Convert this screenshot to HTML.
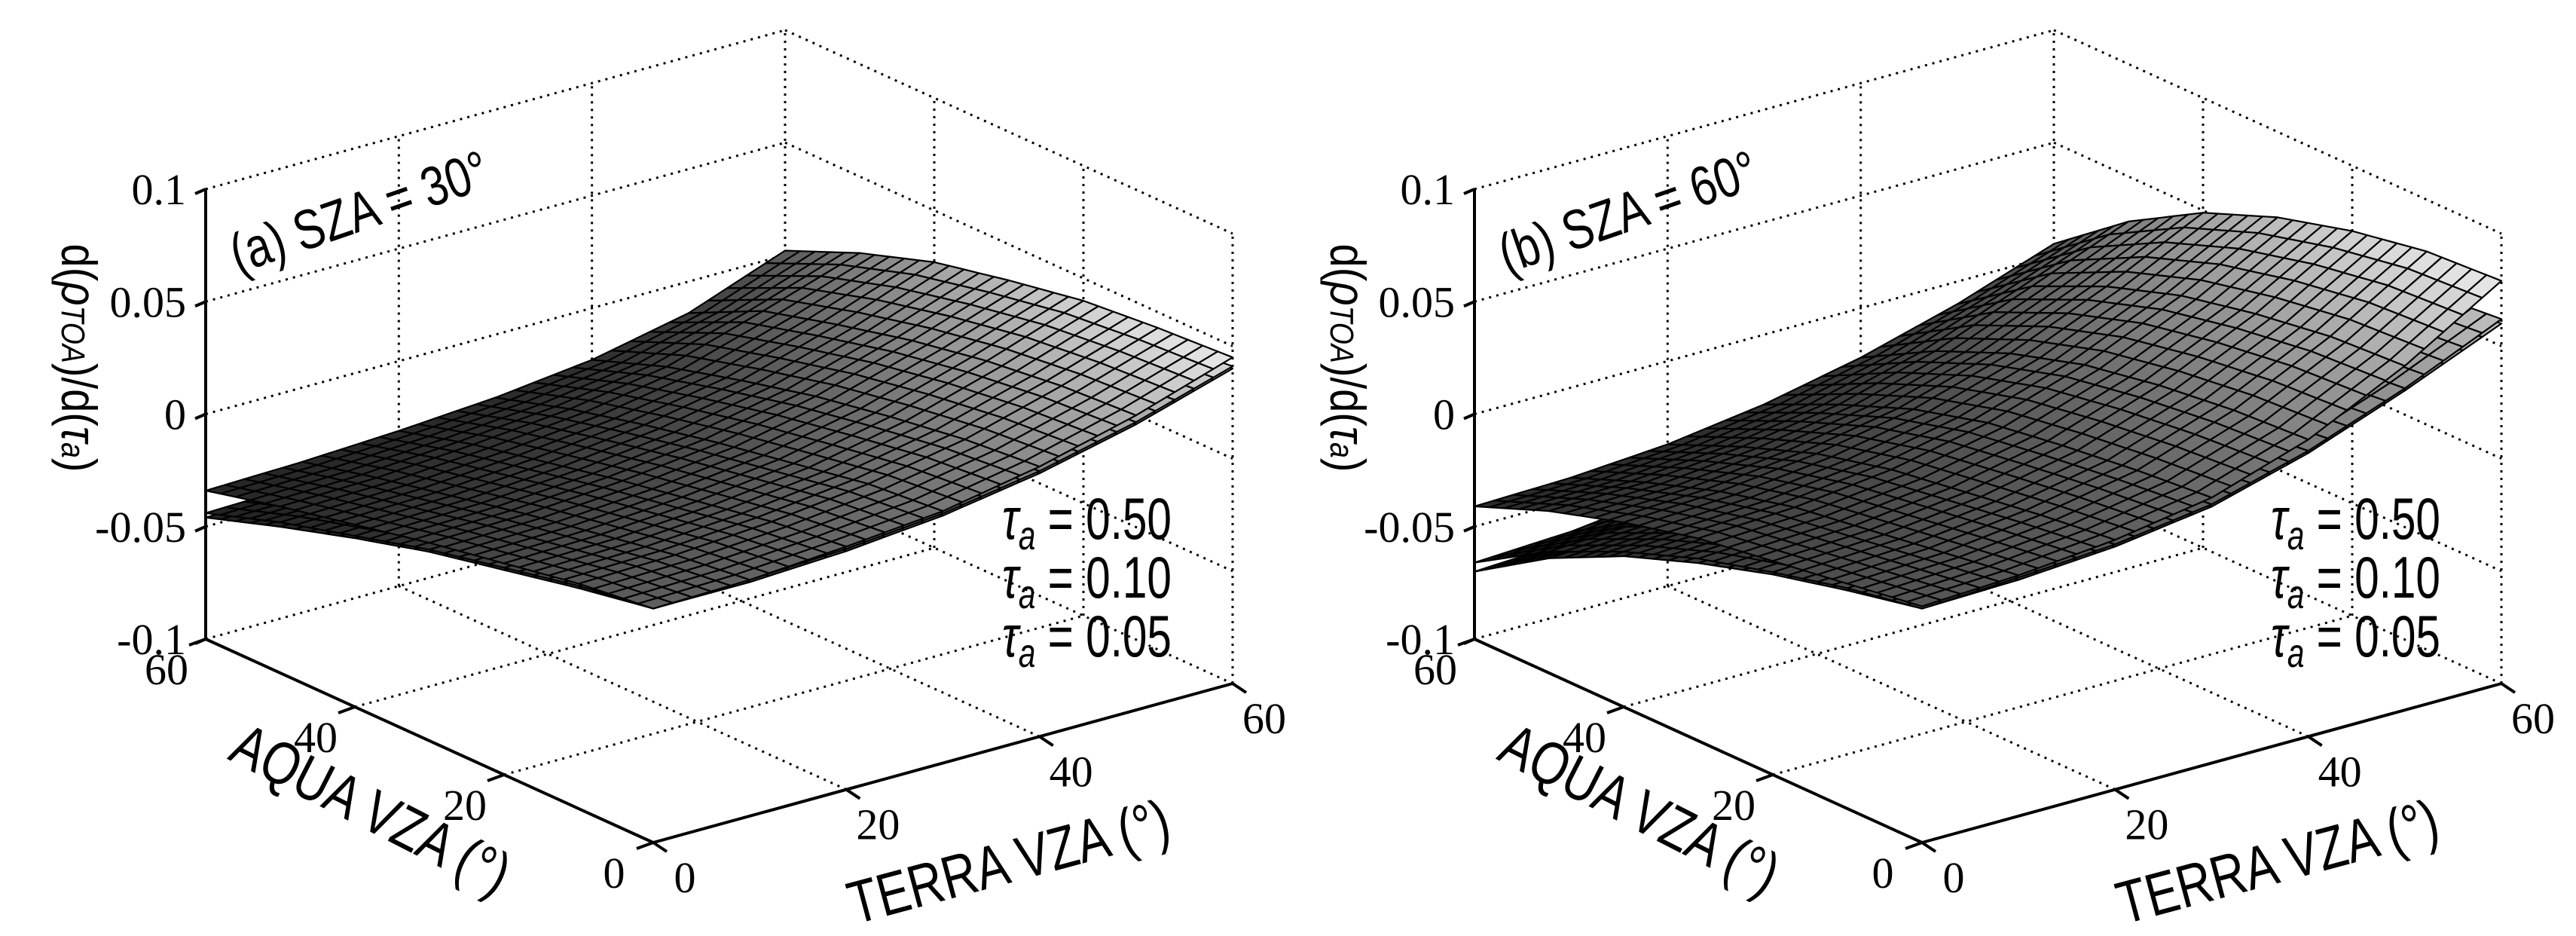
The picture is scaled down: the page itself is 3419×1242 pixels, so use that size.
<!DOCTYPE html>
<html><head><meta charset="utf-8"><style>
html,body{margin:0;padding:0;background:#fff;}
svg{display:block;}
text{fill:#000;}
.ser{font-family:"Liberation Serif",serif;}
.san{font-family:"Liberation Sans",sans-serif;}
</style></head><body>
<svg id="chart" width="3419" height="1242" viewBox="0 0 3419 1242" xmlns="http://www.w3.org/2000/svg"></svg>
<script>
// ---- data ----
const terraTicks = [0, 20, 40, 60];
const aquaTicks = [0, 20, 40, 60];
const zTicks = [-0.1, -0.05, 0, 0.05, 0.1];
const zTickLabels = ["-0.1", "-0.05", "0", "0.05", "0.1"];
const gridVZA = [0, 10, 20, 30, 40, 50, 60];
const legendLabels = ["0.50", "0.10", "0.05"];
const panelTitles = ["(a) SZA = 30°", "(b) SZA = 60°"];
// rows: aqua VZA 0..60, cols: terra VZA 0..60
const szaA_tau050 = [
 [0.004,0.005,0.008,0.012,0.020,0.031,0.045],
 [0.000,0.001,0.004,0.009,0.017,0.029,0.043],
 [-0.006,-0.005,-0.002,0.003,0.012,0.025,0.040],
 [-0.012,-0.011,-0.008,-0.003,0.006,0.019,0.034],
 [-0.019,-0.018,-0.015,-0.010,-0.002,0.011,0.027],
 [-0.026,-0.025,-0.022,-0.018,-0.011,0.002,0.016],
 [-0.034,-0.033,-0.031,-0.028,-0.023,-0.014,0.002]];
const szaA_tau010 = [
 [0.004,0.005,0.007,0.011,0.018,0.028,0.041],
 [-0.001,0.000,0.003,0.007,0.014,0.025,0.038],
 [-0.008,-0.007,-0.004,0.000,0.008,0.020,0.034],
 [-0.015,-0.014,-0.011,-0.007,0.001,0.013,0.027],
 [-0.024,-0.023,-0.020,-0.016,-0.008,0.004,0.019],
 [-0.033,-0.032,-0.029,-0.025,-0.019,-0.006,0.007],
 [-0.044,-0.043,-0.041,-0.038,-0.033,-0.024,-0.008]];
const szaA_tau005 = [
 [0.004,0.004,0.006,0.010,0.017,0.027,0.040],
 [-0.002,-0.001,0.002,0.006,0.013,0.024,0.036],
 [-0.009,-0.008,-0.005,-0.001,0.007,0.018,0.032],
 [-0.016,-0.015,-0.012,-0.008,0.000,0.011,0.025],
 [-0.025,-0.024,-0.021,-0.017,-0.010,0.002,0.017],
 [-0.035,-0.034,-0.031,-0.027,-0.021,-0.008,0.005],
 [-0.046,-0.045,-0.043,-0.040,-0.035,-0.026,-0.010]];
const szaB_tau050 = [
 [0.005,0.007,0.011,0.018,0.032,0.053,0.079],
 [0.000,0.002,0.007,0.015,0.030,0.051,0.077],
 [-0.005,-0.003,0.002,0.011,0.026,0.046,0.071],
 [-0.010,-0.008,-0.003,0.006,0.020,0.039,0.062],
 [-0.018,-0.016,-0.011,-0.003,0.010,0.028,0.049],
 [-0.028,-0.027,-0.023,-0.016,-0.004,0.013,0.030],
 [-0.041,-0.040,-0.037,-0.031,-0.022,-0.010,0.005]];
const szaB_tau010 = [
 [0.004,0.006,0.009,0.015,0.027,0.043,0.062],
 [-0.002,0.000,0.004,0.011,0.023,0.040,0.059],
 [-0.010,-0.008,-0.003,0.004,0.017,0.033,0.052],
 [-0.019,-0.017,-0.012,-0.004,0.008,0.024,0.042],
 [-0.031,-0.029,-0.024,-0.016,-0.004,0.011,0.028],
 [-0.046,-0.044,-0.040,-0.032,-0.020,-0.006,0.010],
 [-0.066,-0.064,-0.059,-0.051,-0.040,-0.026,-0.011]];
const szaB_tau005 = [
 [0.004,0.005,0.008,0.014,0.026,0.042,0.060],
 [-0.003,-0.001,0.003,0.010,0.022,0.038,0.057],
 [-0.011,-0.009,-0.004,0.003,0.015,0.031,0.050],
 [-0.021,-0.019,-0.014,-0.006,0.006,0.022,0.040],
 [-0.033,-0.031,-0.026,-0.018,-0.006,0.009,0.026],
 [-0.049,-0.047,-0.043,-0.035,-0.023,-0.008,0.008],
 [-0.070,-0.068,-0.063,-0.055,-0.044,-0.029,-0.013]];

const NS = "http://www.w3.org/2000/svg";
const svg = document.getElementById("chart");
function mk(tag, attrs, parent) {
  const e = document.createElementNS(NS, tag);
  for (const k in attrs) e.setAttribute(k, attrs[k]);
  (parent || svg).appendChild(e);
  return e;
}

function drawPanel(idx, ox, surfaces) {
  const g = mk("g", {});
  
  
  const oy = 1118;
  function P(t, a, z) {
    return [ox + t / 60 * 769 - a / 60 * 594, oy - t / 60 * 211 - a / 60 * 270 - (z + 0.1) / 0.2 * 597];
  }
  const dot = {stroke: "#000", "stroke-width": 3, "stroke-dasharray": "3 7", fill: "none"};
  function line(p, q, style, parent, name) {
    const l = mk("line", Object.assign({x1: p[0], y1: p[1], x2: q[0], y2: q[1]}, style), parent);
    
    
    return l;
  }
  const grid = mk("g", {}, g);
  
  
  zTicks.forEach(z => {
    line(P(0, 60, z), P(60, 60, z), dot, grid, 'grid-z-back');
    line(P(60, 60, z), P(60, 0, z), dot, grid, 'grid-z-right');
  });
  terraTicks.forEach(t => {
    if (t > 0) line(P(t, 60, -0.1), P(t, 60, 0.1), dot, grid, 'grid-terra-wall');
    if (t > 0 && t < 60) line(P(t, 0, -0.1), P(t, 60, -0.1), dot, grid, 'grid-terra-floor');
  });
  aquaTicks.forEach(a => {
    if (a < 60) line(P(60, a, -0.1), P(60, a, 0.1), dot, grid, 'grid-aqua-wall');
    if (a > 0 && a < 60) line(P(0, a, -0.1), P(60, a, -0.1), dot, grid, 'grid-aqua-floor');
  });
  let zmin = 1, zmax = -1;
  surfaces.forEach(s => s.forEach(r => r.forEach(v => { zmin = Math.min(zmin, v); zmax = Math.max(zmax, v); })));
  function interp(s, t, a) {
    const ft = t / 10, fa = a / 10;
    const i = Math.min(5, Math.floor(fa)), j = Math.min(5, Math.floor(ft));
    const u = ft - j, v = fa - i;
    return s[i][j] * (1 - u) * (1 - v) + s[i][j + 1] * u * (1 - v) + s[i + 1][j] * (1 - u) * v + s[i + 1][j + 1] * u * v;
  }
  const N = 30;
  const step = gridVZA[gridVZA.length - 1] / N;
  for (let si = surfaces.length - 1; si >= 0; si--) {
    const s = surfaces[si];
    const sg = mk("g", {}, g);
    
    
    const cells = [];
    for (let i = 0; i < N; i++) for (let j = 0; j < N; j++) cells.push([i, j]);
    cells.sort((p, q) => (q[0] + q[1]) - (p[0] + p[1]));
    cells.forEach(([i, j]) => {
      const a0 = i * step, a1 = (i + 1) * step, t0 = j * step, t1 = (j + 1) * step;
      const z00 = interp(s, t0, a0), z01 = interp(s, t1, a0), z11 = interp(s, t1, a1), z10 = interp(s, t0, a1);
      const pts = [P(t0, a0, z00), P(t1, a0, z01), P(t1, a1, z11), P(t0, a1, z10)];
      const zc = (z00 + z01 + z11 + z10) / 4;
      const f = (zc - zmin) / (zmax - zmin);
      const gv = Math.round(35 + 200 * Math.pow(f, 2.0));
      const poly = mk("polygon", {points: pts.map(p => p[0].toFixed(1) + "," + p[1].toFixed(1)).join(" "),
        fill: `rgb(${gv},${gv},${gv})`, stroke: "#000", "stroke-width": 2.2, "stroke-linejoin": "round"}, sg);
      
      
    });
  }
  const solid = {stroke: "#000", "stroke-width": 4, fill: "none"};
  line(P(0, 60, -0.1), P(0, 60, 0.1), solid, g, 'z-axis');
  line(P(0, 60, -0.1), P(0, 0, -0.1), solid, g, 'aqua-axis');
  line(P(0, 0, -0.1), P(60, 0, -0.1), solid, g, 'terra-axis');
  zTicks.forEach((z, k) => {
    const p = P(0, 60, z);
    line(p, [p[0] - 14, p[1] + 6], solid, g, 'z-tick');
    const tx = mk("text", {x: p[0] - 26, y: p[1] + 20, "text-anchor": "end", "font-size": 58, class: "ser"}, g);
    tx.textContent = zTickLabels[k];
    
    
  });
  aquaTicks.forEach(a => {
    const p = P(0, a, -0.1);
    line(p, [p[0] - 22, p[1] + 8], solid, g, 'aqua-tick');
    const tx = mk("text", {x: p[0] - 52, y: p[1] + 60, "text-anchor": "middle", "font-size": 58, class: "ser"}, g);
    tx.textContent = String(a);
    
    
  });
  terraTicks.forEach(t => {
    const p = P(t, 0, -0.1);
    line(p, [p[0] + 18, p[1] + 12], solid, g, 'terra-tick');
    const tx = mk("text", {x: p[0] + 42, y: p[1] + 66, "text-anchor": "middle", "font-size": 58, class: "ser"}, g);
    tx.textContent = String(t);
    
    
  });
  const d = ox - 867;
  const at = mk("text", {transform: `translate(${480 + d},1098) rotate(27) scale(0.8,1)`, "text-anchor": "middle", "font-size": 80, class: "san"}, g);
  at.textContent = "AQUA VZA (°)";
  
  
  const tt = mk("text", {transform: `translate(${1346 + d},1170) rotate(-15) scale(0.8,1)`, "text-anchor": "middle", "font-size": 80, class: "san"}, g);
  tt.textContent = "TERRA VZA (°)";
  
  
  const yt = mk("text", {transform: `translate(${82 + d},475) rotate(90) scale(0.85,1)`, "text-anchor": "middle", "font-size": 66, class: "san"}, g);
  yt.innerHTML = 'd(<tspan font-style="italic">ρ</tspan><tspan font-style="italic" font-size="44">TOA</tspan>)/d(<tspan font-style="italic">τ</tspan><tspan font-style="italic" font-size="44">a</tspan>)';
  
  
  const pt = mk("text", {transform: `translate(${485 + d},305) rotate(-19) scale(0.8,1)`, "text-anchor": "middle", "font-size": 74, class: "san"}, g);
  pt.textContent = panelTitles[idx];
  
  
  legendLabels.forEach((lab, k) => {
    const lt = mk("text", {transform: `translate(${1330 + d},${715 + k * 78}) scale(0.75,1)`, "font-size": 78, class: "san"}, g);
    lt.innerHTML = '<tspan font-style="italic">τ</tspan><tspan font-style="italic" font-size="54" dy="14">a</tspan><tspan dy="-14"> = ' + lab + '</tspan>';
    
    
  });
}
drawPanel(0, 867, [szaA_tau050, szaA_tau010, szaA_tau005]);
drawPanel(1, 2551, [szaB_tau050, szaB_tau010, szaB_tau005]);
</script>
</body></html>
